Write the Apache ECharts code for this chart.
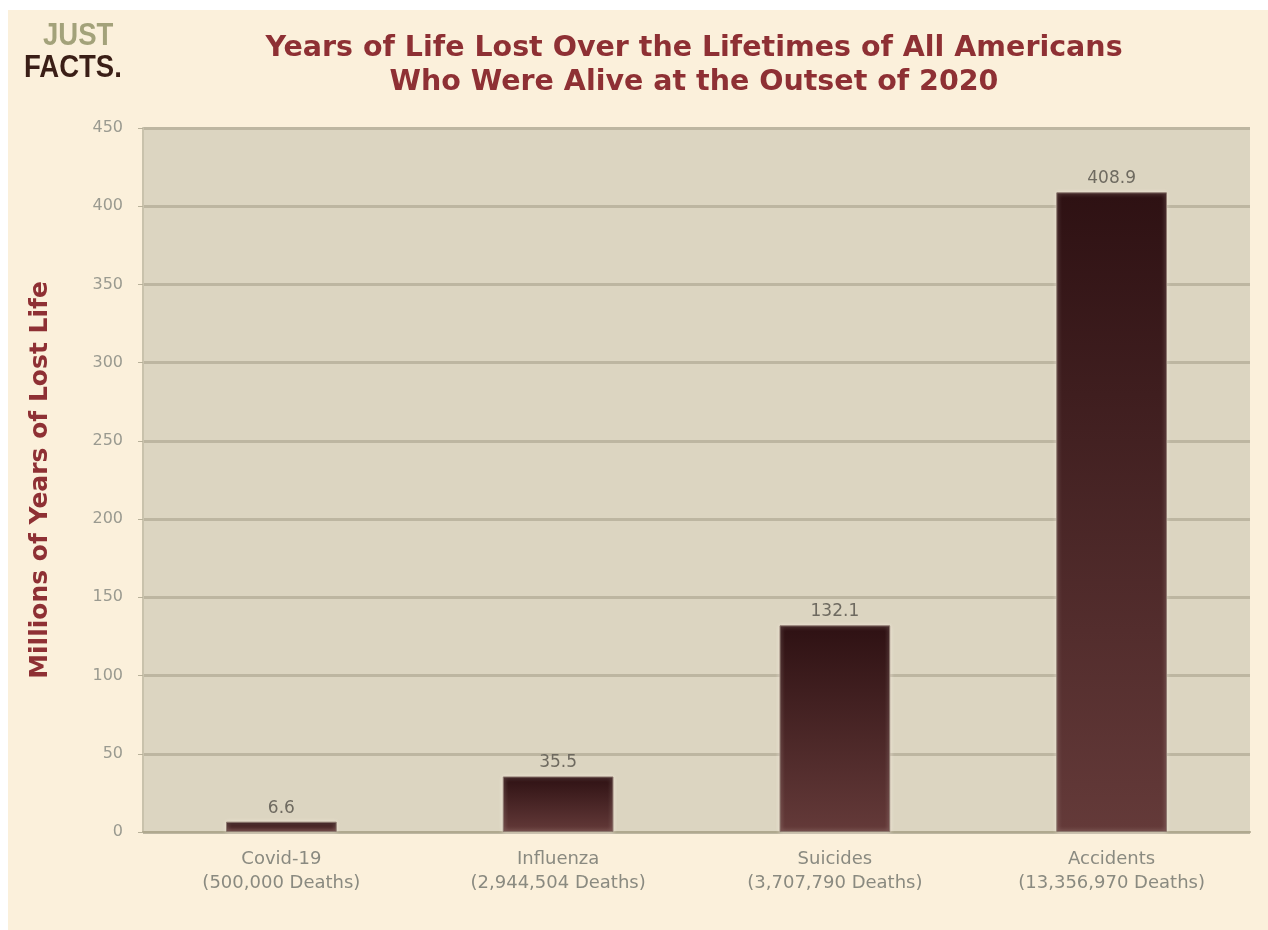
<!DOCTYPE html>
<html>
<head>
<meta charset="utf-8">
<script src="https://cdn.jsdelivr.net/npm/echarts@6/dist/echarts.min.js"></script>
<style>
  html, body { margin: 0; padding: 0; background: #ffffff; }
  #chart { width: 1268px; height: 930px; }
</style>
</head>
<body>
<div id="chart"></div>
<script>
var categories = ['Covid-19\n(500,000 Deaths)', 'Influenza\n(2,944,504 Deaths)', 'Suicides\n(3,707,790 Deaths)', 'Accidents\n(13,356,970 Deaths)'];
var lostYears = [6.6, 35.5, 132.1, 408.9];
var yTicks = [0, 50, 100, 150, 200, 250, 300, 350, 400, 450];

var chart = echarts.init(document.getElementById('chart'));
var option = {
    backgroundColor: '#FBF0DB',
    title: {
        text: 'Years of Life Lost Over the Lifetimes of All Americans\nWho Were Alive at the Outset of 2020',
        left: 689,
        top: 27,
        textAlign: 'center',
        textStyle: {
            color: '#8E3034',
            fontFamily: 'DejaVu Sans',
            fontWeight: 'bold',
            fontSize: 28.5,
            lineHeight: 34
        }
    },
    graphic: [
        { type: 'rect', left: 0, top: 0, shape: { width: 1268, height: 10 }, style: { fill: '#ffffff' } },
        { type: 'rect', left: 0, top: 0, shape: { width: 8, height: 930 }, style: { fill: '#ffffff' } },
        // logo
        {
            type: 'text', x: 43, y: 20, scaleX: 0.86,
            style: { text: 'JUST', fill: '#A3A27A', font: 'bold 32px "Liberation Sans", Arial' }
        },
        {
            type: 'text', x: 24, y: 52, scaleX: 0.86,
            style: { text: 'FACTS.', fill: '#3A1E16', font: 'bold 32px "Liberation Sans", Arial' }
        }
    ],
    grid: {
        left: 143,
        right: 18,
        top: 128,
        bottom: 98
    },
    xAxis: {
        type: 'category',
        data: categories,
        axisLine: { lineStyle: { color: '#B0A98F', width: 2 } },
        axisTick: { show: false },
        axisLabel: {
            color: '#8A8A80',
            fontFamily: 'DejaVu Sans',
            fontSize: 18,
            lineHeight: 24,
            margin: 15
        }
    },
    yAxis: {
        type: 'value',
        min: 0,
        max: 450,
        interval: 50,
        name: 'Millions of Years of Lost Life',
        nameLocation: 'middle',
        nameGap: 90,
        nameTextStyle: {
            color: '#8E3034',
            fontFamily: 'DejaVu Sans',
            fontWeight: 'bold',
            fontSize: 25
        },
        axisLine: { show: true, lineStyle: { color: '#C9C2AC', width: 2 } },
        axisTick: { show: true, length: 5, lineStyle: { color: '#B8B19A' } },
        axisLabel: {
            color: '#9A9A90',
            fontFamily: 'DejaVu Sans',
            fontSize: 16,
            margin: 20,
            formatter: function (v) { return yTicks.indexOf(v) >= 0 ? String(v) : ''; }
        },
        splitLine: { lineStyle: { color: '#BDB6A1', width: 3 } },
        splitArea: { show: true, areaStyle: { color: ['#DCD5C1', '#DCD5C1'] } }
    },
    series: [
        {
            name: 'Years of Life Lost',
            type: 'bar',
            data: lostYears,
            barWidth: '40%',
            itemStyle: {
                color: new echarts.graphic.LinearGradient(0, 0, 0, 1, [
                    { offset: 0, color: '#2E1113' },
                    { offset: 1, color: '#643A39' }
                ]),
                borderColor: '#8E7A70',
                borderWidth: 1,
                shadowColor: 'rgba(255,240,230,0.6)',
                shadowBlur: 4
            },
            label: {
                show: true,
                position: 'top',
                distance: 5,
                color: '#6E6A60',
                fontFamily: 'DejaVu Sans',
                fontSize: 17,
                formatter: function (p) { return p.value.toFixed(1); }
            }
        }
    ]
};
chart.setOption(option);
</script>
</body>
</html>
